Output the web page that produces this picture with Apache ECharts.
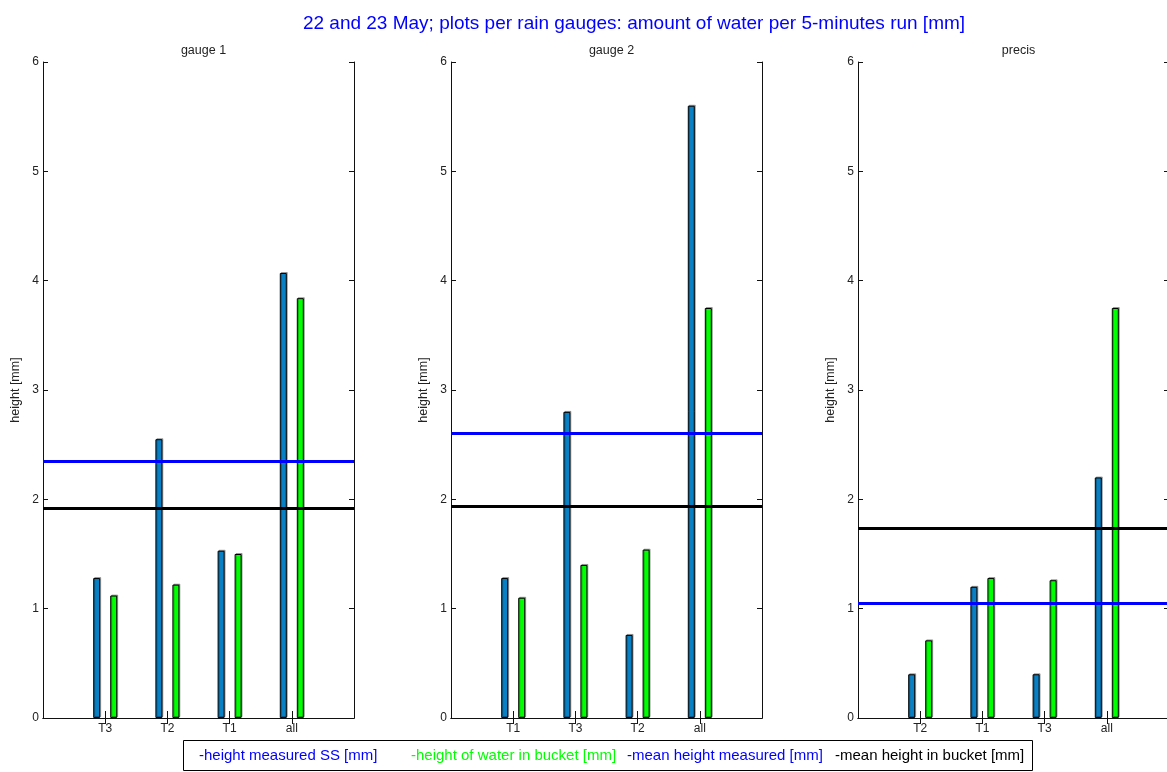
<!DOCTYPE html>
<html>
<head>
<meta charset="utf-8">
<script src="https://cdn.jsdelivr.net/npm/echarts@6/dist/echarts.min.js"></script>
<style>html,body{margin:0;padding:0;background:#fff}#c{width:1167px;height:772px}</style>
</head>
<body>
<div id="c"></div>
<script>
// ---- data ----
const mainTitle = '22 and 23 May; plots per rain gauges: amount of water per 5-minutes run [mm]';
const panelTitles = ['gauge 1', 'gauge 2', 'precis'];
const categories1 = ['T3', 'T2', 'T1', 'all'];
const categories2 = ['T1', 'T3', 'T2', 'all'];
const categories3 = ['T2', 'T1', 'T3', 'all'];
const measured1 = [1.28, 2.55, 1.53, 4.07];
const bucket1   = [1.12, 1.22, 1.50, 3.84];
const measured2 = [1.28, 2.80, 0.76, 5.60];
const bucket2   = [1.10, 1.40, 1.54, 3.75];
const measured3 = [0.40, 1.20, 0.40, 2.20];
const bucket3   = [0.71, 1.28, 1.26, 3.75];
const meanMeasured = [2.35, 2.60, 1.05];
const meanBucket   = [1.92, 1.94, 1.74];
const yTicks = [0, 1, 2, 3, 4, 5, 6];
const yAxisName = 'height [mm]';
const legendTexts = ['-height measured SS [mm]', '-height of water in bucket [mm]', '-mean height measured [mm]', '-mean height in bucket [mm]'];

// ---- build ----
const FONT = '"Liberation Sans", Arial, sans-serif';
const panels = [
  {cats: categories1, m: measured1, b: bucket1},
  {cats: categories2, m: measured2, b: bucket2},
  {cats: categories3, m: measured3, b: bucket3}
];
const lefts = [43, 451, 858];
const W = 311, TOP = 62, BOTTOM = 54;
const axisColor = '#111';

const grid = [], xAxis = [], yAxis = [], series = [], titles = [];
titles.push({text: mainTitle, left: 629, top: 9, textAlign: 'center',
  textStyle: {color: '#0000ff', fontSize: 19, fontWeight: 'normal', fontFamily: FONT}});

const innerTick = (idx) => idx > 0 && idx < 5;

panels.forEach((p, i) => {
  grid.push({left: lefts[i], top: TOP, width: W, height: 772 - TOP - BOTTOM,
    containLabel: false, outerBoundsMode: 'none'});
  const padded = [''].concat(p.cats, ['']);
  const gi = i;
  titles.push({text: panelTitles[i], left: lefts[i] + W / 2, top: 39, textAlign: 'center',
    textStyle: {color: '#222', fontSize: 12.5, fontWeight: 'normal', fontFamily: FONT}});
  xAxis.push({type: 'category', gridIndex: gi, data: padded, boundaryGap: false, position: 'bottom',
    axisLine: {lineStyle: {color: axisColor, width: 1}},
    axisTick: {inside: true, length: 7, interval: innerTick, lineStyle: {color: axisColor}},
    axisLabel: {color: '#222', fontSize: 12, fontFamily: FONT, margin: 5, interval: 0},
    splitLine: {show: false}});
  xAxis.push({type: 'category', gridIndex: gi, data: padded, boundaryGap: false, position: 'top',
    axisLine: {lineStyle: {color: axisColor, width: 1}},
    axisTick: {inside: true, length: 6, interval: innerTick, lineStyle: {color: axisColor}},
    axisLabel: {show: false}, splitLine: {show: false}});
  yAxis.push({type: 'value', gridIndex: gi, min: yTicks[0], max: yTicks[yTicks.length - 1], interval: 1,
    position: 'left', name: yAxisName, nameLocation: 'middle', nameGap: 21, nameRotate: 90,
    nameTextStyle: {color: '#222', fontSize: 12.5, fontFamily: FONT},
    axisLine: {show: true, lineStyle: {color: axisColor, width: 1}},
    axisTick: {show: true, inside: true, length: 5, lineStyle: {color: axisColor}},
    axisLabel: {color: '#222', fontSize: 12, fontFamily: FONT, margin: 4},
    splitLine: {show: false}});
  yAxis.push({type: 'value', gridIndex: gi, min: yTicks[0], max: yTicks[yTicks.length - 1], interval: 1,
    position: 'right',
    axisLine: {show: true, lineStyle: {color: axisColor, width: 1}},
    axisTick: {show: true, inside: true, length: 5, lineStyle: {color: axisColor}},
    axisLabel: {show: false}, splitLine: {show: false}});
  const xi = i * 2, yi = i * 2;
  const barStyle = (c) => ({color: c, borderColor: '#000', borderWidth: 1,
    shadowColor: 'rgba(0,0,0,0.3)', shadowOffsetX: 1, shadowOffsetY: -1, shadowBlur: 0});
  series.push({type: 'bar', xAxisIndex: xi, yAxisIndex: yi, barWidth: 7, barGap: '143%',
    data: ['-'].concat(p.m, ['-']), itemStyle: barStyle('#0a80c4'), silent: true, animation: false});
  series.push({type: 'bar', xAxisIndex: xi, yAxisIndex: yi, barWidth: 7, barGap: '143%',
    data: ['-'].concat(p.b, ['-']), itemStyle: barStyle('#00ff00'), silent: true, animation: false,
    markLine: {symbol: 'none', silent: true, animation: false, label: {show: false},
      data: [
        {yAxis: meanBucket[i], lineStyle: {color: '#000000', width: 3, type: 'solid'}},
        {yAxis: meanMeasured[i], lineStyle: {color: '#0000ff', width: 3, type: 'solid'}}
      ]}});
});

const legendX = [199, 411, 627, 835];
const legendColors = ['#0000ff', '#00ff00', '#0000ff', '#000000'];
const graphic = [{type: 'rect', shape: {x: 183.5, y: 740.5, width: 849, height: 30},
  style: {fill: '#fff', stroke: '#000', lineWidth: 1}, z: 100}];
legendTexts.forEach((t, k) => {
  graphic.push({type: 'text', x: legendX[k], y: 756, z: 101,
    style: {text: t, fill: legendColors[k],
      font: '15px "Liberation Sans", Arial, sans-serif', textVerticalAlign: 'middle'}});
});

const chart = echarts.init(document.getElementById('c'), null, {renderer: 'canvas'});
chart.setOption({backgroundColor: '#fff', animation: false, title: titles, grid, xAxis, yAxis, series, graphic});
</script>
</body>
</html>
